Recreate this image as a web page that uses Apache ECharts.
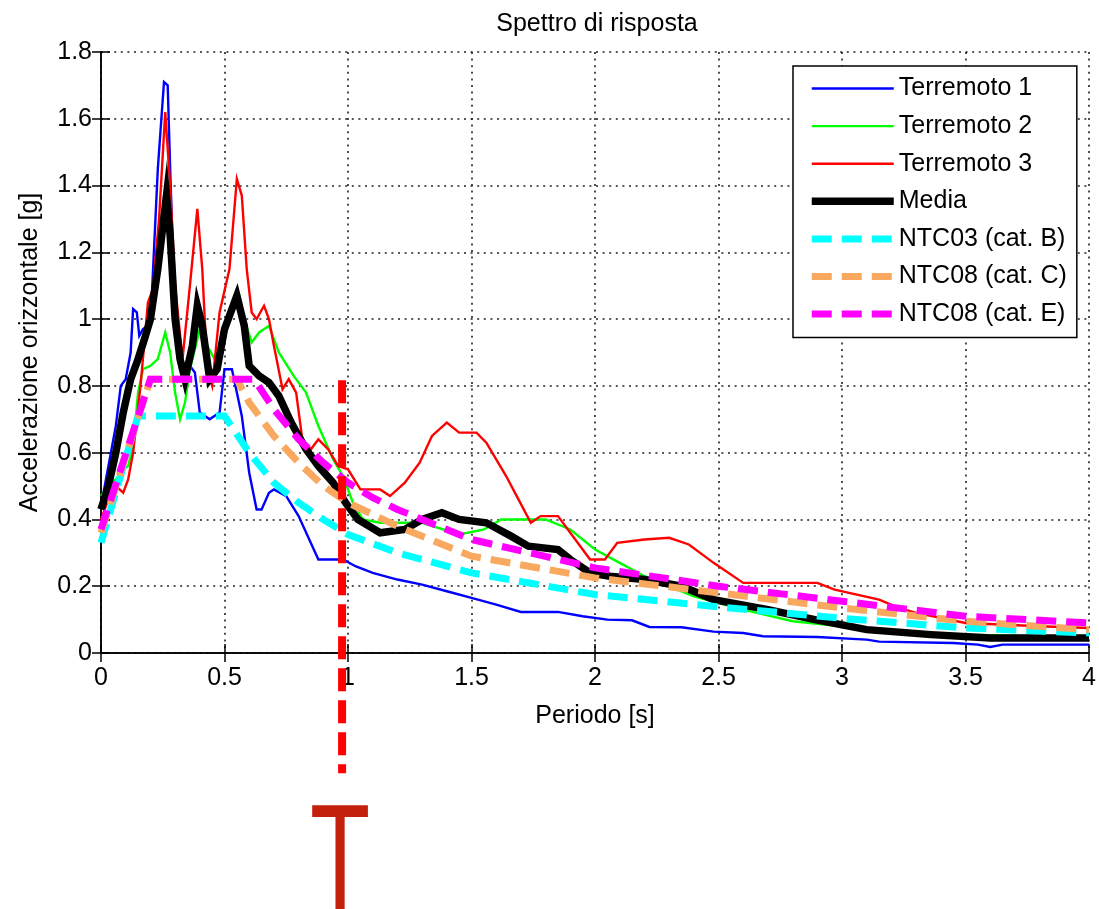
<!DOCTYPE html>
<html>
<head>
<meta charset="utf-8">
<script src="https://cdn.jsdelivr.net/npm/echarts@6/dist/echarts.min.js"></script>
<style>
html,body{margin:0;padding:0;background:#fff;}
#chart{width:1099px;height:909px;}
</style>
</head>
<body>
<div id="chart"></div>
<script>
// ---- Data ----
const titleText = 'Spettro di risposta';
const xName = 'Periodo [s]';
const yName = 'Accelerazione orizzontale [g]';
const seriesNames = ['Terremoto 1', 'Terremoto 2', 'Terremoto 3', 'Media', 'NTC03 (cat. B)', 'NTC08 (cat. C)', 'NTC08 (cat. E)'];

const t1T = [0,0.02,0.04,0.06,0.08,0.10,0.12,0.13,0.145,0.155,0.17,0.19,0.20,0.23,0.255,0.27,0.28,0.30,0.32,0.36,0.38,0.40,0.44,0.48,0.50,0.53,0.55,0.57,0.60,0.63,0.65,0.68,0.70,0.75,0.80,0.88,0.98,1.03,1.10,1.20,1.30,1.40,1.50,1.60,1.70,1.85,1.95,2.05,2.15,2.22,2.35,2.48,2.60,2.68,2.90,3.10,3.15,3.45,3.55,3.60,3.65,4.00];
const t1A = [0.44,0.52,0.60,0.68,0.80,0.82,0.90,1.03,1.02,0.95,0.97,0.98,0.98,1.45,1.71,1.70,1.45,1.00,0.85,0.86,0.84,0.72,0.70,0.72,0.85,0.85,0.78,0.71,0.54,0.43,0.43,0.48,0.49,0.47,0.41,0.28,0.28,0.26,0.24,0.22,0.205,0.185,0.165,0.145,0.123,0.123,0.11,0.10,0.098,0.078,0.077,0.064,0.06,0.05,0.048,0.04,0.034,0.03,0.025,0.018,0.025,0.025];

const t2T = [0,0.03,0.06,0.09,0.11,0.13,0.15,0.17,0.20,0.23,0.26,0.28,0.30,0.32,0.34,0.36,0.40,0.43,0.46,0.50,0.54,0.56,0.58,0.61,0.64,0.68,0.72,0.78,0.83,0.88,0.94,0.98,1.02,1.06,1.13,1.30,1.45,1.55,1.62,1.80,1.90,2.00,2.10,2.20,2.40,2.60,2.80,3.00,3.20,3.50,3.80,4.00];
const t2A = [0.47,0.50,0.52,0.55,0.56,0.62,0.78,0.85,0.86,0.88,0.96,0.90,0.78,0.70,0.75,0.85,0.97,0.92,0.88,0.95,1.04,1.07,1.00,0.93,0.96,0.98,0.90,0.83,0.78,0.68,0.58,0.53,0.45,0.40,0.39,0.39,0.355,0.37,0.40,0.40,0.37,0.31,0.27,0.23,0.17,0.13,0.095,0.08,0.06,0.055,0.05,0.045];

const t3T = [0,0.03,0.06,0.09,0.11,0.13,0.16,0.19,0.21,0.235,0.26,0.28,0.30,0.33,0.36,0.39,0.41,0.43,0.45,0.48,0.52,0.55,0.57,0.59,0.61,0.63,0.66,0.68,0.70,0.735,0.76,0.79,0.815,0.85,0.88,0.92,0.96,1.00,1.05,1.13,1.17,1.23,1.29,1.34,1.40,1.45,1.52,1.56,1.64,1.69,1.74,1.78,1.85,1.92,1.98,2.04,2.09,2.20,2.30,2.38,2.48,2.60,2.90,2.97,3.15,3.23,3.30,3.50,3.80,4.00];
const t3A = [0.40,0.46,0.50,0.48,0.52,0.60,0.80,1.05,1.09,1.30,1.62,1.40,1.10,0.88,1.10,1.33,1.15,0.85,0.80,1.02,1.15,1.42,1.37,1.15,1.02,1.00,1.04,1.00,0.92,0.79,0.82,0.78,0.64,0.61,0.64,0.61,0.56,0.55,0.49,0.49,0.47,0.51,0.57,0.65,0.69,0.66,0.66,0.63,0.53,0.46,0.39,0.41,0.41,0.34,0.28,0.28,0.33,0.34,0.345,0.325,0.27,0.21,0.21,0.19,0.16,0.135,0.12,0.09,0.08,0.075];

const mediaT = [0,0.03,0.06,0.09,0.12,0.15,0.18,0.20,0.23,0.265,0.28,0.30,0.32,0.34,0.37,0.39,0.41,0.44,0.47,0.50,0.55,0.58,0.60,0.64,0.68,0.72,0.77,0.83,0.88,0.94,0.99,1.04,1.13,1.23,1.30,1.38,1.45,1.56,1.66,1.73,1.85,1.90,1.98,2.06,2.20,2.35,2.48,2.70,2.89,3.10,3.36,3.60,4.00];
const mediaA = [0.43,0.50,0.60,0.72,0.82,0.88,0.95,1.00,1.15,1.37,1.25,1.00,0.88,0.82,0.92,1.04,0.98,0.82,0.85,0.97,1.07,0.98,0.86,0.83,0.81,0.77,0.69,0.61,0.56,0.51,0.45,0.40,0.36,0.37,0.40,0.42,0.40,0.39,0.35,0.32,0.31,0.28,0.24,0.23,0.22,0.20,0.16,0.13,0.10,0.07,0.055,0.045,0.045];

const ntcBT = [0,0.15,0.50,0.60,0.70,0.80,0.90,1.00,1.20,1.50,2.00,2.50,3.00,3.50,4.00];
const ntcBA = [0.33,0.71,0.71,0.60,0.51,0.45,0.40,0.355,0.30,0.24,0.175,0.138,0.104,0.075,0.06];

const ntcCT = [0,0.20,0.55,0.60,0.70,0.80,0.90,1.00,1.20,1.50,2.00,2.50,3.00,3.50,4.00];
const ntcCA = [0.36,0.82,0.82,0.75,0.65,0.57,0.50,0.45,0.38,0.29,0.225,0.18,0.135,0.095,0.07];

const ntcET = [0,0.20,0.62,0.70,0.80,0.90,1.00,1.10,1.20,1.50,2.00,2.50,3.00,3.50,4.00];
const ntcEA = [0.37,0.82,0.82,0.73,0.64,0.57,0.51,0.465,0.43,0.34,0.255,0.20,0.155,0.11,0.09];

// annotation: vertical marker at the period T, in data units
const markerT = 0.976;
const markerTop = 0.817;
const markerBottom = -0.36;
const markerLetter = 'T';

// ---- styling ----
const FONT = "'Liberation Sans', Arial, sans-serif";
const zip = (xs, ys) => xs.map((x, i) => [x, ys[i]]);

function lineSeries(name, xs, ys, color, width, dash) {
  return {
    name: name, type: 'line', data: zip(xs, ys),
    symbol: 'none', showSymbol: false, animation: false,
    lineStyle: { color: color, width: width, type: dash || 'solid', cap: 'butt', join: 'miter' },
    itemStyle: { color: color },
    emphasis: { disabled: true }
  };
}

const chart = echarts.init(document.getElementById('chart'), null, { renderer: 'canvas' });

const tickInside = { show: true, inside: true, length: 9, lineStyle: { color: '#000', width: 1.5 } };
const axisLineStyle = { show: true, lineStyle: { color: '#000', width: 1.5 } };
const gridDots = { show: true, lineStyle: { color: '#222', width: 1.6, type: [2, 4.6] } };

chart.setOption({
  backgroundColor: '#fff',
  animation: false,
  title: {
    text: titleText, left: 597, top: 12, textAlign: 'center', padding: 0,
    textStyle: { fontFamily: FONT, fontSize: 25, fontWeight: 'normal', color: '#000' }
  },
  grid: { left: 101, right: 6, top: 52, bottom: 256, containLabel: false },
  legend: {
    orient: 'vertical', left: 793, top: 66,
    padding: [10, 10, 11, 15], itemWidth: 82, itemHeight: 14, itemGap: 12.6,
    backgroundColor: '#fff', borderColor: '#000', borderWidth: 1.5, borderRadius: 0,
    textStyle: { fontFamily: FONT, fontSize: 25, color: '#000', lineHeight: 24 },
    itemStyle: { opacity: 0 },
    lineStyle: { width: 'inherit' },
    data: seriesNames
  },
  xAxis: [
    {
      type: 'value', min: 0, max: 4, interval: 0.5, position: 'bottom',
      name: xName, nameLocation: 'middle', nameGap: 51,
      nameTextStyle: { fontFamily: FONT, fontSize: 25, color: '#000' },
      axisLine: axisLineStyle, axisTick: tickInside,
      axisLabel: { fontFamily: FONT, fontSize: 25, color: '#000', margin: 13 },
      splitLine: gridDots
    },
    {
      type: 'value', min: 0, max: 4, interval: 0.5, position: 'top',
      axisLine: axisLineStyle, axisTick: tickInside, axisLabel: { show: false }, splitLine: { show: false }
    }
  ],
  yAxis: [
    {
      type: 'value', min: 0, max: 1.8, interval: 0.2, position: 'left',
      name: yName, nameLocation: 'middle', nameGap: 58, nameRotate: 90,
      nameTextStyle: { fontFamily: FONT, fontSize: 25, color: '#000' },
      axisLine: axisLineStyle, axisTick: tickInside,
      axisLabel: { fontFamily: FONT, fontSize: 25, color: '#000', margin: 9 },
      splitLine: gridDots
    },
    {
      type: 'value', min: 0, max: 1.8, interval: 0.2, position: 'right',
      axisLine: axisLineStyle, axisTick: tickInside, axisLabel: { show: false }, splitLine: { show: false }
    }
  ],
  series: [
    lineSeries(seriesNames[0], t1T, t1A, '#0000ff', 2.4),
    lineSeries(seriesNames[1], t2T, t2A, '#00ff00', 2.4),
    lineSeries(seriesNames[2], t3T, t3A, '#ff0000', 2.4),
    lineSeries(seriesNames[3], mediaT, mediaA, '#000000', 7.5),
    lineSeries(seriesNames[4], ntcBT, ntcBA, '#00ffff', 7, [20, 10]),
    lineSeries(seriesNames[5], ntcCT, ntcCA, '#f9a860', 7, [20, 10]),
    lineSeries(seriesNames[6], ntcET, ntcEA, '#ff00ff', 7, [20, 10])
  ]
});

// annotation placed through the axes' own scale
const pTop = chart.convertToPixel({ gridIndex: 0 }, [markerT, markerTop]);
const pBot = chart.convertToPixel({ gridIndex: 0 }, [markerT, markerBottom]);
chart.setOption({
  graphic: [
    {
      type: 'line', silent: true, z: 100,
      shape: { x1: pTop[0], y1: pTop[1], x2: pBot[0], y2: pBot[1] },
      style: { stroke: '#ff0000', lineWidth: 8, lineDash: [23, 9], lineCap: 'butt' }
    },
    {
      type: 'text', silent: true, z: 100,
      x: pBot[0] - 2, y: pBot[1] + 95, scaleX: 0.64, scaleY: 1,
      style: { text: markerLetter, font: "154px 'Liberation Sans', Arial, sans-serif", fill: '#c4200e', align: 'center', verticalAlign: 'middle' }
    }
  ]
});
</script>
</body>
</html>
